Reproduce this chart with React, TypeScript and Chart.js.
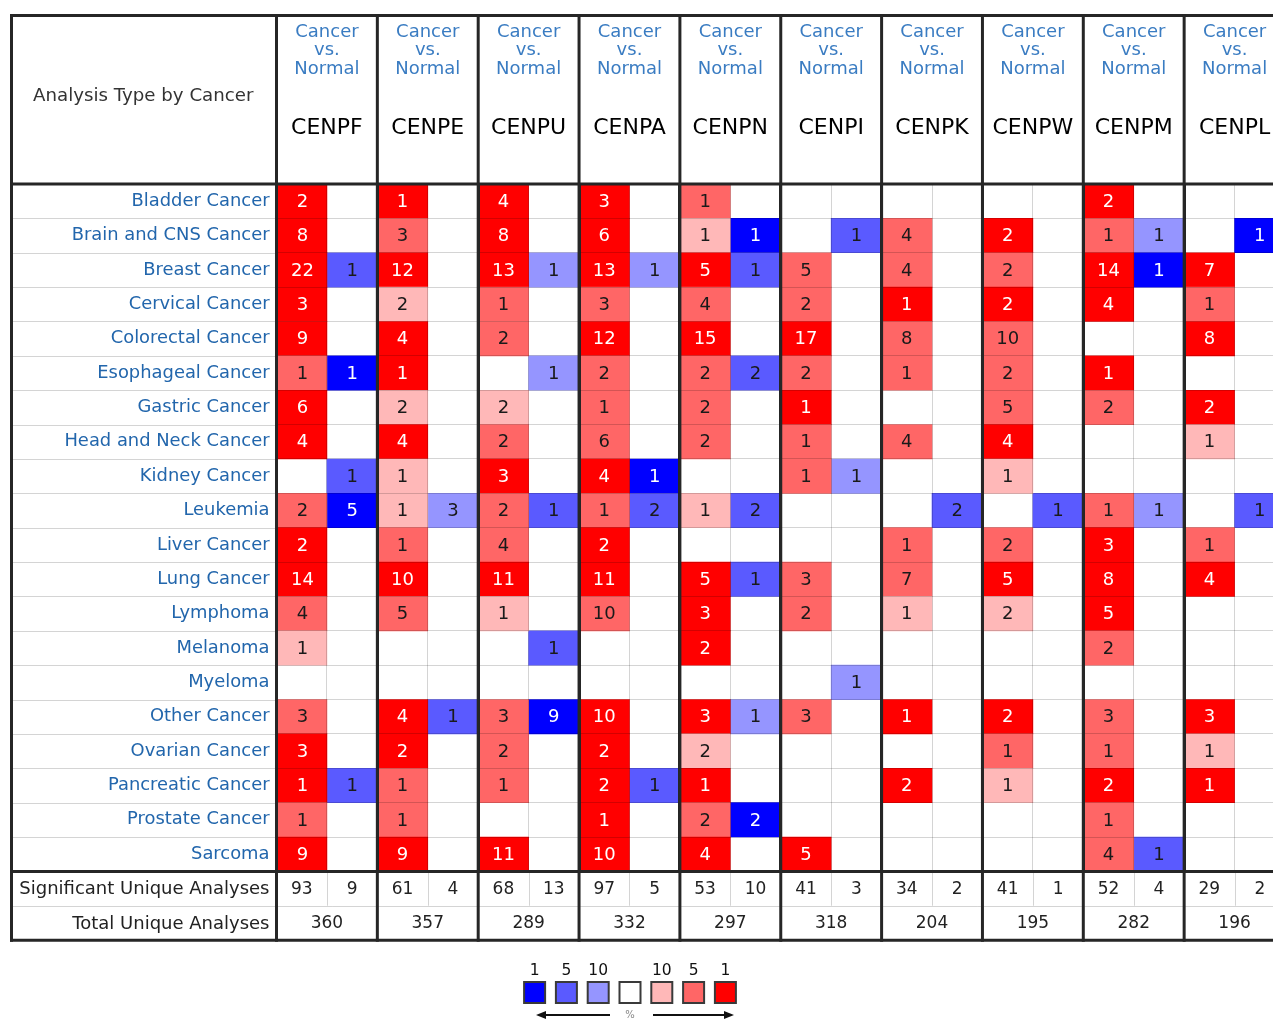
import React, { useEffect, useRef } from 'react';
import { Chart, registerables } from 'chart.js';

Chart.register(...registerables);

const genes = ['CENPF', 'CENPE', 'CENPU', 'CENPA', 'CENPN', 'CENPI', 'CENPK', 'CENPW', 'CENPM', 'CENPL'];
const cancers = [
  'Bladder Cancer', 'Brain and CNS Cancer', 'Breast Cancer', 'Cervical Cancer', 'Colorectal Cancer',
  'Esophageal Cancer', 'Gastric Cancer', 'Head and Neck Cancer', 'Kidney Cancer', 'Leukemia',
  'Liver Cancer', 'Lung Cancer', 'Lymphoma', 'Melanoma', 'Myeloma',
  'Other Cancer', 'Ovarian Cancer', 'Pancreatic Cancer', 'Prostate Cancer', 'Sarcoma',
];

// Number of analyses with over-expression (red), per gene, rows in cancers order (0 = none)
const upCounts = [
  [2, 8, 22, 3, 9, 1, 6, 4, 0, 2, 2, 14, 4, 1, 0, 3, 3, 1, 1, 9],
  [1, 3, 12, 2, 4, 1, 2, 4, 1, 1, 1, 10, 5, 0, 0, 4, 2, 1, 1, 9],
  [4, 8, 13, 1, 2, 0, 2, 2, 3, 2, 4, 11, 1, 0, 0, 3, 2, 1, 0, 11],
  [3, 6, 13, 3, 12, 2, 1, 6, 4, 1, 2, 11, 10, 0, 0, 10, 2, 2, 1, 10],
  [1, 1, 5, 4, 15, 2, 2, 2, 0, 1, 0, 5, 3, 2, 0, 3, 2, 1, 2, 4],
  [0, 0, 5, 2, 17, 2, 1, 1, 1, 0, 0, 3, 2, 0, 0, 3, 0, 0, 0, 5],
  [0, 4, 4, 1, 8, 1, 0, 4, 0, 0, 1, 7, 1, 0, 0, 1, 0, 2, 0, 0],
  [0, 2, 2, 2, 10, 2, 5, 4, 1, 0, 2, 5, 2, 0, 0, 2, 1, 1, 0, 0],
  [2, 1, 14, 4, 0, 1, 2, 0, 0, 1, 3, 8, 5, 2, 0, 3, 1, 2, 1, 4],
  [0, 0, 7, 1, 8, 0, 2, 1, 0, 0, 1, 4, 0, 0, 0, 3, 1, 1, 0, 0],
];
// Gene rank percentile class of the red cells: 1 = top 1%, 2 = top 5%, 3 = top 10%
const upLevels = [
  [1, 1, 1, 1, 1, 2, 1, 1, 0, 2, 1, 1, 2, 3, 0, 2, 1, 1, 2, 1],
  [1, 2, 1, 3, 1, 1, 3, 1, 3, 3, 2, 1, 2, 0, 0, 1, 1, 2, 2, 1],
  [1, 1, 1, 2, 2, 0, 3, 2, 1, 2, 2, 1, 3, 0, 0, 2, 2, 2, 0, 1],
  [1, 1, 1, 2, 1, 2, 2, 2, 1, 2, 1, 1, 2, 0, 0, 1, 1, 1, 1, 1],
  [2, 3, 1, 2, 1, 2, 2, 2, 0, 3, 0, 1, 1, 1, 0, 1, 3, 1, 2, 1],
  [0, 0, 2, 2, 1, 2, 1, 2, 2, 0, 0, 2, 2, 0, 0, 2, 0, 0, 0, 1],
  [0, 2, 2, 1, 2, 2, 0, 2, 0, 0, 2, 2, 3, 0, 0, 1, 0, 1, 0, 0],
  [0, 1, 2, 1, 2, 2, 2, 1, 3, 0, 2, 1, 3, 0, 0, 1, 2, 3, 0, 0],
  [1, 2, 1, 1, 0, 1, 2, 0, 0, 2, 1, 1, 1, 2, 0, 2, 2, 1, 2, 2],
  [0, 0, 1, 2, 1, 0, 1, 3, 0, 0, 2, 1, 0, 0, 0, 1, 3, 1, 0, 0],
];
// Number of analyses with under-expression (blue)
const downCounts = [
  [0, 0, 1, 0, 0, 1, 0, 0, 1, 5, 0, 0, 0, 0, 0, 0, 0, 1, 0, 0],
  [0, 0, 0, 0, 0, 0, 0, 0, 0, 3, 0, 0, 0, 0, 0, 1, 0, 0, 0, 0],
  [0, 0, 1, 0, 0, 1, 0, 0, 0, 1, 0, 0, 0, 1, 0, 9, 0, 0, 0, 0],
  [0, 0, 1, 0, 0, 0, 0, 0, 1, 2, 0, 0, 0, 0, 0, 0, 0, 1, 0, 0],
  [0, 1, 1, 0, 0, 2, 0, 0, 0, 2, 0, 1, 0, 0, 0, 1, 0, 0, 2, 0],
  [0, 1, 0, 0, 0, 0, 0, 0, 1, 0, 0, 0, 0, 0, 1, 0, 0, 0, 0, 0],
  [0, 0, 0, 0, 0, 0, 0, 0, 0, 2, 0, 0, 0, 0, 0, 0, 0, 0, 0, 0],
  [0, 0, 0, 0, 0, 0, 0, 0, 0, 1, 0, 0, 0, 0, 0, 0, 0, 0, 0, 0],
  [0, 1, 1, 0, 0, 0, 0, 0, 0, 1, 0, 0, 0, 0, 0, 0, 0, 0, 0, 1],
  [0, 1, 0, 0, 0, 0, 0, 0, 0, 1, 0, 0, 0, 0, 0, 0, 0, 0, 0, 0],
];
const downLevels = [
  [0, 0, 2, 0, 0, 1, 0, 0, 2, 1, 0, 0, 0, 0, 0, 0, 0, 2, 0, 0],
  [0, 0, 0, 0, 0, 0, 0, 0, 0, 3, 0, 0, 0, 0, 0, 2, 0, 0, 0, 0],
  [0, 0, 3, 0, 0, 3, 0, 0, 0, 2, 0, 0, 0, 2, 0, 1, 0, 0, 0, 0],
  [0, 0, 3, 0, 0, 0, 0, 0, 1, 2, 0, 0, 0, 0, 0, 0, 0, 2, 0, 0],
  [0, 1, 2, 0, 0, 2, 0, 0, 0, 2, 0, 2, 0, 0, 0, 3, 0, 0, 1, 0],
  [0, 2, 0, 0, 0, 0, 0, 0, 3, 0, 0, 0, 0, 0, 3, 0, 0, 0, 0, 0],
  [0, 0, 0, 0, 0, 0, 0, 0, 0, 2, 0, 0, 0, 0, 0, 0, 0, 0, 0, 0],
  [0, 0, 0, 0, 0, 0, 0, 0, 0, 2, 0, 0, 0, 0, 0, 0, 0, 0, 0, 0],
  [0, 3, 1, 0, 0, 0, 0, 0, 0, 3, 0, 0, 0, 0, 0, 0, 0, 0, 0, 2],
  [0, 1, 0, 0, 0, 0, 0, 0, 0, 2, 0, 0, 0, 0, 0, 0, 0, 0, 0, 0],
];

const sigUp = [93, 61, 68, 97, 53, 41, 34, 41, 52, 29];
const sigDown = [9, 4, 13, 5, 10, 3, 2, 1, 4, 2];
const totals = [360, 357, 289, 332, 297, 318, 204, 195, 282, 196];

const headerLines = ['Cancer', 'vs.', 'Normal'];
const legendLabels = ['1', '5', '10', '', '10', '5', '1'];

const FONT = '"DejaVu Sans", sans-serif';
const RED = ['#ff0000', '#ff6666', '#ffb8b8'];
const BLUE = ['#0000ff', '#5a5aff', '#9595ff'];
const legendColors = [BLUE[0], BLUE[1], BLUE[2], '#ffffff', RED[2], RED[1], RED[0]];
const THICK = '#262626';
const THIN = 'rgba(0,0,0,0.17)';
const LABEL_BLUE = '#2266ac';
const HEAD_BLUE = '#3a7cc2';
const TABLE_LEFT = 10;
const TABLE_TOP = 14;
const CANVAS_W = 1300;
const CANVAS_H = 1019;

export default function App() {
  const ref = useRef<HTMLCanvasElement>(null);

  useEffect(() => {
    if (!ref.current) return;
    const nSub = genes.length * 2;
    const datasets: any[] = [];
    for (let j = 0; j < nSub; j++) {
      const g = Math.floor(j / 2);
      const down = j % 2 === 1;
      const counts = down ? downCounts[g] : upCounts[g];
      const levels = down ? downLevels[g] : upLevels[g];
      const shades = down ? BLUE : RED;
      const data: any[] = [];
      cancers.forEach((c, r) => {
        if (counts[r] > 0) {
          data.push({ x: [j, j + 1], y: c, v: counts[r], lvl: levels[r] });
        }
      });
      datasets.push({
        label: `${genes[g]} ${down ? 'under' : 'over'}`,
        data,
        backgroundColor: data.map((d) => shades[d.lvl - 1]),
        borderWidth: 0,
        borderSkipped: false,
        barPercentage: 1,
        categoryPercentage: 1,
        grouped: false,
      });
    }

    const tablePlugin = {
      id: 'oncomineTable',
      afterDraw(chart: any) {
        const ctx = chart.ctx as CanvasRenderingContext2D;
        const xs = chart.scales.x;
        const ca = chart.chartArea;
        const rowH = (ca.bottom - ca.top) / cancers.length;
        const sigTop = ca.bottom;
        const totTop = ca.bottom + rowH;
        const tableBottom = ca.bottom + 2 * rowH;
        const right = chart.width;
        ctx.save();

        // cell numbers
        chart.data.datasets.forEach((ds: any, j: number) => {
          const meta = chart.getDatasetMeta(j);
          meta.data.forEach((el: any, k: number) => {
            const raw = ds.data[k];
            const p = el.getCenterPoint();
            ctx.font = `18px ${FONT}`;
            ctx.textAlign = 'center';
            ctx.textBaseline = 'middle';
            ctx.fillStyle = raw.lvl === 1 ? '#ffffff' : '#1a1a1a';
            ctx.fillText(String(raw.v), p.x, p.y + 1);
          });
        });

        // thin lines in label column
        ctx.strokeStyle = THIN;
        ctx.lineWidth = 1;
        for (let i = 1; i < cancers.length; i++) {
          const y = Math.round(ca.top + i * rowH) + 0.5;
          ctx.beginPath();
          ctx.moveTo(TABLE_LEFT, y);
          ctx.lineTo(ca.left, y);
          ctx.stroke();
        }
        // summary separator
        ctx.beginPath();
        ctx.moveTo(TABLE_LEFT, Math.round(totTop) + 0.5);
        ctx.lineTo(right, Math.round(totTop) + 0.5);
        ctx.stroke();
        // sub-column separators in significant row
        for (let g = 0; g < genes.length; g++) {
          const x = Math.round(xs.getPixelForValue(2 * g + 1)) + 0.5;
          ctx.beginPath();
          ctx.moveTo(x, sigTop);
          ctx.lineTo(x, totTop);
          ctx.stroke();
        }

        // header texts
        ctx.textAlign = 'center';
        ctx.textBaseline = 'alphabetic';
        ctx.fillStyle = '#333333';
        ctx.font = `18.2px ${FONT}`;
        ctx.fillText('Analysis Type by Cancer', (TABLE_LEFT + ca.left) / 2, 101);
        genes.forEach((gene, g) => {
          const cx = xs.getPixelForValue(2 * g + 1);
          ctx.fillStyle = HEAD_BLUE;
          ctx.font = `18px ${FONT}`;
          ctx.fillText(headerLines[0], cx, 37);
          ctx.fillText(headerLines[1], cx, 55);
          ctx.fillText(headerLines[2], cx, 74);
          ctx.fillStyle = '#000000';
          ctx.font = `22px ${FONT}`;
          ctx.fillText(gene, cx, 134);
        });

        // summary rows
        ctx.textBaseline = 'middle';
        ctx.fillStyle = '#222222';
        ctx.font = `18px ${FONT}`;
        ctx.textAlign = 'right';
        ctx.fillText('Significant Unique Analyses', ca.left - 7, sigTop + rowH / 2 + 1);
        ctx.fillText('Total Unique Analyses', ca.left - 7, totTop + rowH / 2 + 1);
        ctx.textAlign = 'center';
        ctx.font = `17px ${FONT}`;
        genes.forEach((_, g) => {
          ctx.fillText(String(sigUp[g]), xs.getPixelForValue(2 * g + 0.5), sigTop + rowH / 2 + 1);
          ctx.fillText(String(sigDown[g]), xs.getPixelForValue(2 * g + 1.5), sigTop + rowH / 2 + 1);
          ctx.fillText(String(totals[g]), xs.getPixelForValue(2 * g + 1), totTop + rowH / 2 + 1);
        });

        // thick borders
        ctx.strokeStyle = THICK;
        ctx.lineWidth = 3;
        const hLines = [TABLE_TOP + 1.5, ca.top, ca.bottom, tableBottom];
        hLines.forEach((y) => {
          ctx.beginPath();
          ctx.moveTo(TABLE_LEFT, y);
          ctx.lineTo(right, y);
          ctx.stroke();
        });
        const vLines = [TABLE_LEFT + 1.5];
        for (let g = 0; g <= genes.length; g++) vLines.push(xs.getPixelForValue(2 * g));
        vLines.forEach((x) => {
          ctx.beginPath();
          ctx.moveTo(x, TABLE_TOP);
          ctx.lineTo(x, tableBottom + 1.5);
          ctx.stroke();
        });

        // legend
        const lcx = 630;
        const step = 31.8;
        const bs = 21;
        const by = 982;
        legendColors.forEach((col, i) => {
          const bx = lcx + (i - 3) * step - bs / 2;
          ctx.fillStyle = col;
          ctx.fillRect(bx, by, bs, bs);
          ctx.strokeStyle = '#3a3a3a';
          ctx.lineWidth = 2;
          ctx.strokeRect(bx, by, bs, bs);
          if (legendLabels[i]) {
            ctx.fillStyle = '#111111';
            ctx.font = `15.5px ${FONT}`;
            ctx.textAlign = 'center';
            ctx.textBaseline = 'alphabetic';
            ctx.fillText(legendLabels[i], lcx + (i - 3) * step, 975);
          }
        });
        // arrows
        ctx.strokeStyle = '#111111';
        ctx.fillStyle = '#111111';
        ctx.lineWidth = 2;
        const ay = 1015;
        ctx.beginPath();
        ctx.moveTo(610, ay);
        ctx.lineTo(544, ay);
        ctx.stroke();
        ctx.beginPath();
        ctx.moveTo(536, ay);
        ctx.lineTo(546, ay - 4);
        ctx.lineTo(546, ay + 4);
        ctx.closePath();
        ctx.fill();
        ctx.beginPath();
        ctx.moveTo(653, ay);
        ctx.lineTo(726, ay);
        ctx.stroke();
        ctx.beginPath();
        ctx.moveTo(734, ay);
        ctx.lineTo(724, ay - 4);
        ctx.lineTo(724, ay + 4);
        ctx.closePath();
        ctx.fill();
        ctx.fillStyle = '#888888';
        ctx.font = `10px ${FONT}`;
        ctx.textAlign = 'center';
        ctx.textBaseline = 'middle';
        ctx.fillText('%', lcx, 1015);

        ctx.restore();
      },
    };

    const chart = new Chart(ref.current, {
      type: 'bar',
      data: { labels: cancers, datasets },
      options: {
        indexAxis: 'y',
        responsive: false,
        animation: false,
        devicePixelRatio: 1,
        layout: { padding: { left: TABLE_LEFT, top: 184, right: 15, bottom: 147.6 } },
        plugins: { legend: { display: false }, tooltip: { enabled: false } },
        scales: {
          x: {
            type: 'linear',
            min: 0,
            max: nSub,
            afterBuildTicks: (scale: any) => {
              scale.ticks = Array.from({ length: nSub + 1 }, (_, i) => ({ value: i }));
            },
            afterFit: (scale: any) => {
              scale.height = 0;
            },
            ticks: { display: false },
            border: { display: false },
            grid: {
              z: 1,
              drawTicks: false,
              color: (c: any) => (c.tick && c.tick.value % 2 === 0 ? THICK : THIN),
              lineWidth: (c: any) => (c.tick && c.tick.value % 2 === 0 ? 3 : 1),
            },
          },
          y: {
            type: 'category',
            afterFit: (scale: any) => {
              scale.width = 266.5;
            },
            border: { display: false },
            grid: { z: 1, drawTicks: false, color: THIN, lineWidth: 1, offset: true },
            ticks: {
              color: LABEL_BLUE,
              font: { family: FONT, size: 17.9 },
              padding: 7,
            },
          },
        },
      },
      plugins: [tablePlugin],
    } as any);

    return () => chart.destroy();
  }, []);

  return (
    <div
      style={{
        position: 'absolute',
        left: 0,
        top: 0,
        width: 1273,
        height: CANVAS_H,
        overflow: 'hidden',
        background: '#ffffff',
      }}
    >
      <canvas ref={ref} width={CANVAS_W} height={CANVAS_H} style={{ display: 'block' }} />
    </div>
  );
}
